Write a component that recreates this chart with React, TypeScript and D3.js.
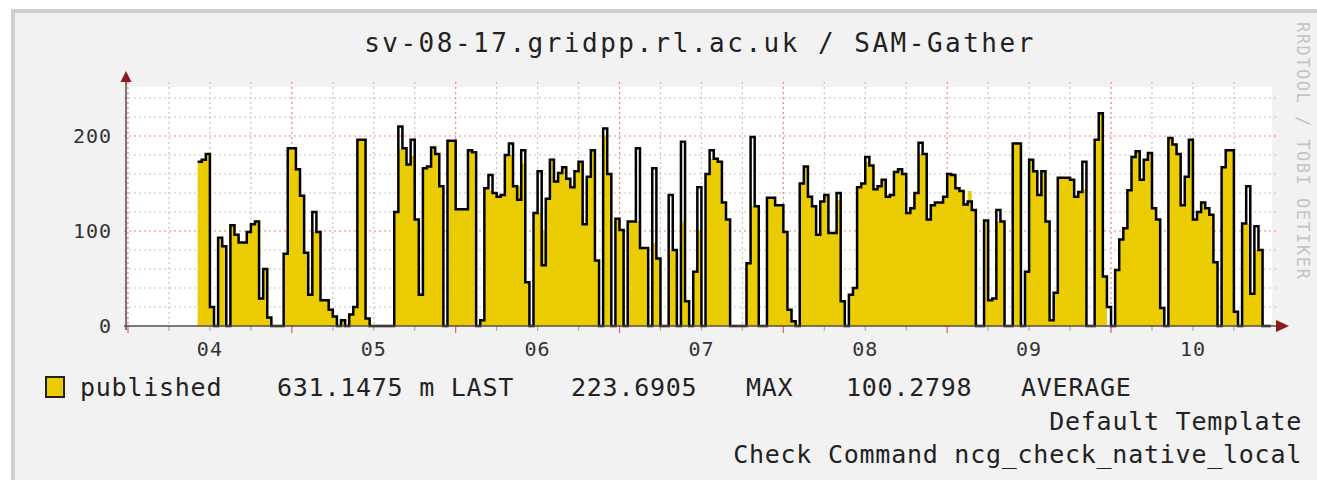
import React from "react";
import * as d3 from "d3";

// rrd-style graph: published (AVERAGE area) with black outline line
const title = "sv-08-17.gridpp.rl.ac.uk / SAM-Gather";
const weekLabels = ["04", "05", "06", "07", "08", "09", "10"];
const yTickValues = [0, 100, 200];
const minorYValues = [20, 40, 60, 80, 120, 140, 160, 180, 220, 240];

// one value per step, null = no data yet
const published: (number | null)[] = [
  null, null, null, null, null, null, null, null, null, null,
  null, null, null, null, null, null, null, 173, 175, 181,
  20, 0, 93, 84, 0, 106, 96, 88, 88, 99,
  107, 110, 29, 60, 9, 0, 0, 0, 76, 187,
  187, 165, 137, 77, 33, 99, 99, 27, 27, 17,
  10, 0, 6, 0, 12, 20, 196, 196, 8, 0,
  0, 0, 0, 0, 0, 120, 186, 187, 170, 179,
  112, 33, 166, 168, 188, 181, 147, 0, 195, 195,
  123, 123, 123, 185, 183, 0, 6, 145, 143, 140,
  136, 138, 180, 180, 147, 147, 171, 46, 0, 119,
  119, 101, 134, 175, 152, 161, 167, 155, 146, 163,
  173, 107, 157, 185, 69, 0, 200, 160, 0, 113,
  101, 0, 110, 110, 110, 82, 82, 0, 87, 71,
  0, 0, 79, 80, 0, 110, 26, 0, 57, 101,
  0, 160, 176, 176, 173, 130, 112, 0, 0, 0,
  0, 66, 126, 126, 0, 0, 135, 135, 127, 127,
  99, 17, 5, 0, 150, 168, 136, 126, 96, 131,
  138, 98, 98, 133, 26, 0, 33, 40, 146, 150,
  173, 169, 144, 147, 154, 136, 138, 162, 165, 160,
  119, 124, 140, 181, 181, 112, 127, 130, 130, 136,
  160, 159, 145, 142, 128, 142, 122, 0, 0, 111,
  27, 29, 110, 110, 0, 0, 192, 192, 0, 57,
  175, 163, 138, 163, 110, 6, 35, 156, 156, 156,
  154, 136, 141, 144, 0, 0, 196, 224, 52, 0,
  0, 59, 91, 103, 143, 178, 184, 154, 175, 182,
  124, 112, 19, 0, 198, 191, 181, 127, 157, 196,
  112, 120, 130, 124, 117, 67, 0, 167, 185, 185,
  15, 0, 108, 108, 34, 80, 80, 0, 0,
];

// steps where the black line leaves the area outline [step, value]
const lineSpikes: [number, number][] = [
  [45, 120], [66, 210], [69, 196], [88, 159], [93, 192], [95, 133],
  [96, 185], [100, 163], [101, 64], [116, 208], [124, 187], [128, 166],
  [132, 138], [135, 194], [139, 146], [142, 185], [152, 199], [173, 140],
  [180, 178], [193, 193], [205, 131], [212, 122], [233, 173], [239, 20],
  [273, 147], [275, 105],
];

const legendTexts = ["published", "631.1475 m LAST", "223.6905", "MAX", "100.2798", "AVERAGE"];
const footerLines = ["Default Template", "Check Command ncg_check_native_local"];
const watermark = "RRDTOOL / TOBI OETIKER";

const W = 1317;
const H = 480;
const plot = { left: 128, right: 1272, top: 87, bottom: 326 };
const STEPS = 279.3;
const mono = "'DejaVu Sans Mono', monospace";

export default function App() {
  const x = d3.scaleLinear().domain([0, STEPS]).range([plot.left, plot.right]);
  const y = d3.scaleLinear().domain([0, 251.6]).range([plot.bottom, plot.top]);

  const areaPts = published.map((v, i) => ({ i, v }));
  areaPts.push({ i: published.length, v: published[published.length - 1] });

  const lineVals = published.slice();
  lineSpikes.forEach(([i, v]) => (lineVals[i] = v));
  const linePts = lineVals.map((v, i) => ({ i, v }));
  linePts.push({ i: lineVals.length, v: lineVals[lineVals.length - 1] });

  const area = d3
    .area<{ i: number; v: number | null }>()
    .defined((d) => d.v != null)
    .x((d) => x(d.i))
    .y0(y(0))
    .y1((d) => y(d.v as number))
    .curve(d3.curveStepAfter);

  const line = d3
    .line<{ i: number; v: number | null }>()
    .defined((d) => d.v != null)
    .x((d) => x(d.i))
    .y((d) => y(d.v as number))
    .curve(d3.curveStepAfter);

  const vSteps = d3.range(0, 280, 10);
  const legendX = [80, 277, 571, 746, 846, 1021];

  return (
    <svg
      width={W}
      height={H}
      style={{ position: "absolute", left: 0, top: 0, display: "block" }}
    >
      <rect x={0} y={0} width={W} height={H} fill="#ffffff" />
      <rect x={13} y={11} width={W + 20} height={H + 20} fill="#f2f2f2" stroke="#d0d0d0" strokeWidth={4} />

      <text x={700} y={52} textAnchor="middle" fontFamily={mono} fontSize={26} letterSpacing={2.5} fill="#222">
        {title}
      </text>

      <rect x={plot.left} y={plot.top} width={plot.right - plot.left} height={plot.bottom - plot.top} fill="#ffffff" />

      {/* grid */}
      {minorYValues.map((v) => (
        <line key={"hy" + v} x1={plot.left - 4} x2={plot.right + 4} y1={y(v)} y2={y(v)}
          stroke="#c4c4c4" strokeWidth={1.2} strokeDasharray="2,3" />
      ))}
      {vSteps.filter((s) => s % 40 !== 0).map((s) => (
        <g key={"vx" + s}>
          <line x1={x(s)} x2={x(s)} y1={plot.top - 5} y2={plot.bottom} stroke="#c4c4c4" strokeWidth={1.2} strokeDasharray="2,3" />
          <line x1={x(s)} x2={x(s)} y1={plot.bottom} y2={plot.bottom + 5} stroke="#b0b0b0" strokeWidth={1.2} />
        </g>
      ))}
      {yTickValues.filter((v) => v > 0).map((v) => (
        <line key={"my" + v} x1={plot.left - 4} x2={plot.right + 4} y1={y(v)} y2={y(v)}
          stroke="#f08080" strokeWidth={1.2} strokeDasharray="2,3" />
      ))}
      {vSteps.filter((s) => s % 40 === 0).map((s) => (
        <g key={"mx" + s}>
          <line x1={x(s)} x2={x(s)} y1={plot.top - 5} y2={plot.bottom} stroke="#f08080" strokeWidth={1.2} strokeDasharray="2,3" />
          <line x1={x(s)} x2={x(s)} y1={plot.bottom} y2={plot.bottom + 7} stroke="#e06060" strokeWidth={1.2} />
        </g>
      ))}

      {/* data */}
      <path d={area(areaPts) ?? ""} fill="#EACC00" />
      <path d={line(linePts) ?? ""} fill="none" stroke="#000" strokeWidth={2.5} strokeLinejoin="miter" />

      {/* axes */}
      <line x1={plot.left - 4} x2={1280} y1={plot.bottom} y2={plot.bottom} stroke="#5a4a4a" strokeWidth={1.5} />
      <line x1={126} x2={126} y1={plot.bottom + 4} y2={80} stroke="#5a4a4a" strokeWidth={1.5} />
      <path d={`M1276,${plot.bottom - 6} L1289,${plot.bottom} L1276,${plot.bottom + 6} Z`} fill="#8b1a1a" />
      <path d={`M120.5,82 L126,71 L131.5,82 Z`} fill="#8b1a1a" />

      {yTickValues.map((v) => (
        <text key={"yl" + v} x={112} y={y(v) + 7} textAnchor="end" fontFamily={mono} fontSize={20} letterSpacing={1} fill="#333">
          {v}
        </text>
      ))}
      {weekLabels.map((l, k) => (
        <text key={l} x={x(20 + 40 * k)} y={356} textAnchor="middle" fontFamily={mono} fontSize={20} letterSpacing={1} fill="#333">
          {l}
        </text>
      ))}

      {/* legend */}
      <rect x={46} y={377} width={18} height={20} fill="#EACC00" stroke="#222" strokeWidth={2} />
      {legendTexts.map((t, k) => (
        <text key={t} x={legendX[k]} y={396} fontFamily={mono} fontSize={25} letterSpacing={0.75} fill="#222">
          {t}
        </text>
      ))}
      {footerLines.map((t, k) => (
        <text key={t} x={1302} y={430 + 33 * k} textAnchor="end" fontFamily={mono} fontSize={25} letterSpacing={0.75} fill="#222">
          {t}
        </text>
      ))}

      <text x={1297} y={22} transform="rotate(90,1297,22)" fontFamily={mono} fontSize={17} letterSpacing={1.5} fill="#c4c4c4">
        {watermark}
      </text>
    </svg>
  );
}
